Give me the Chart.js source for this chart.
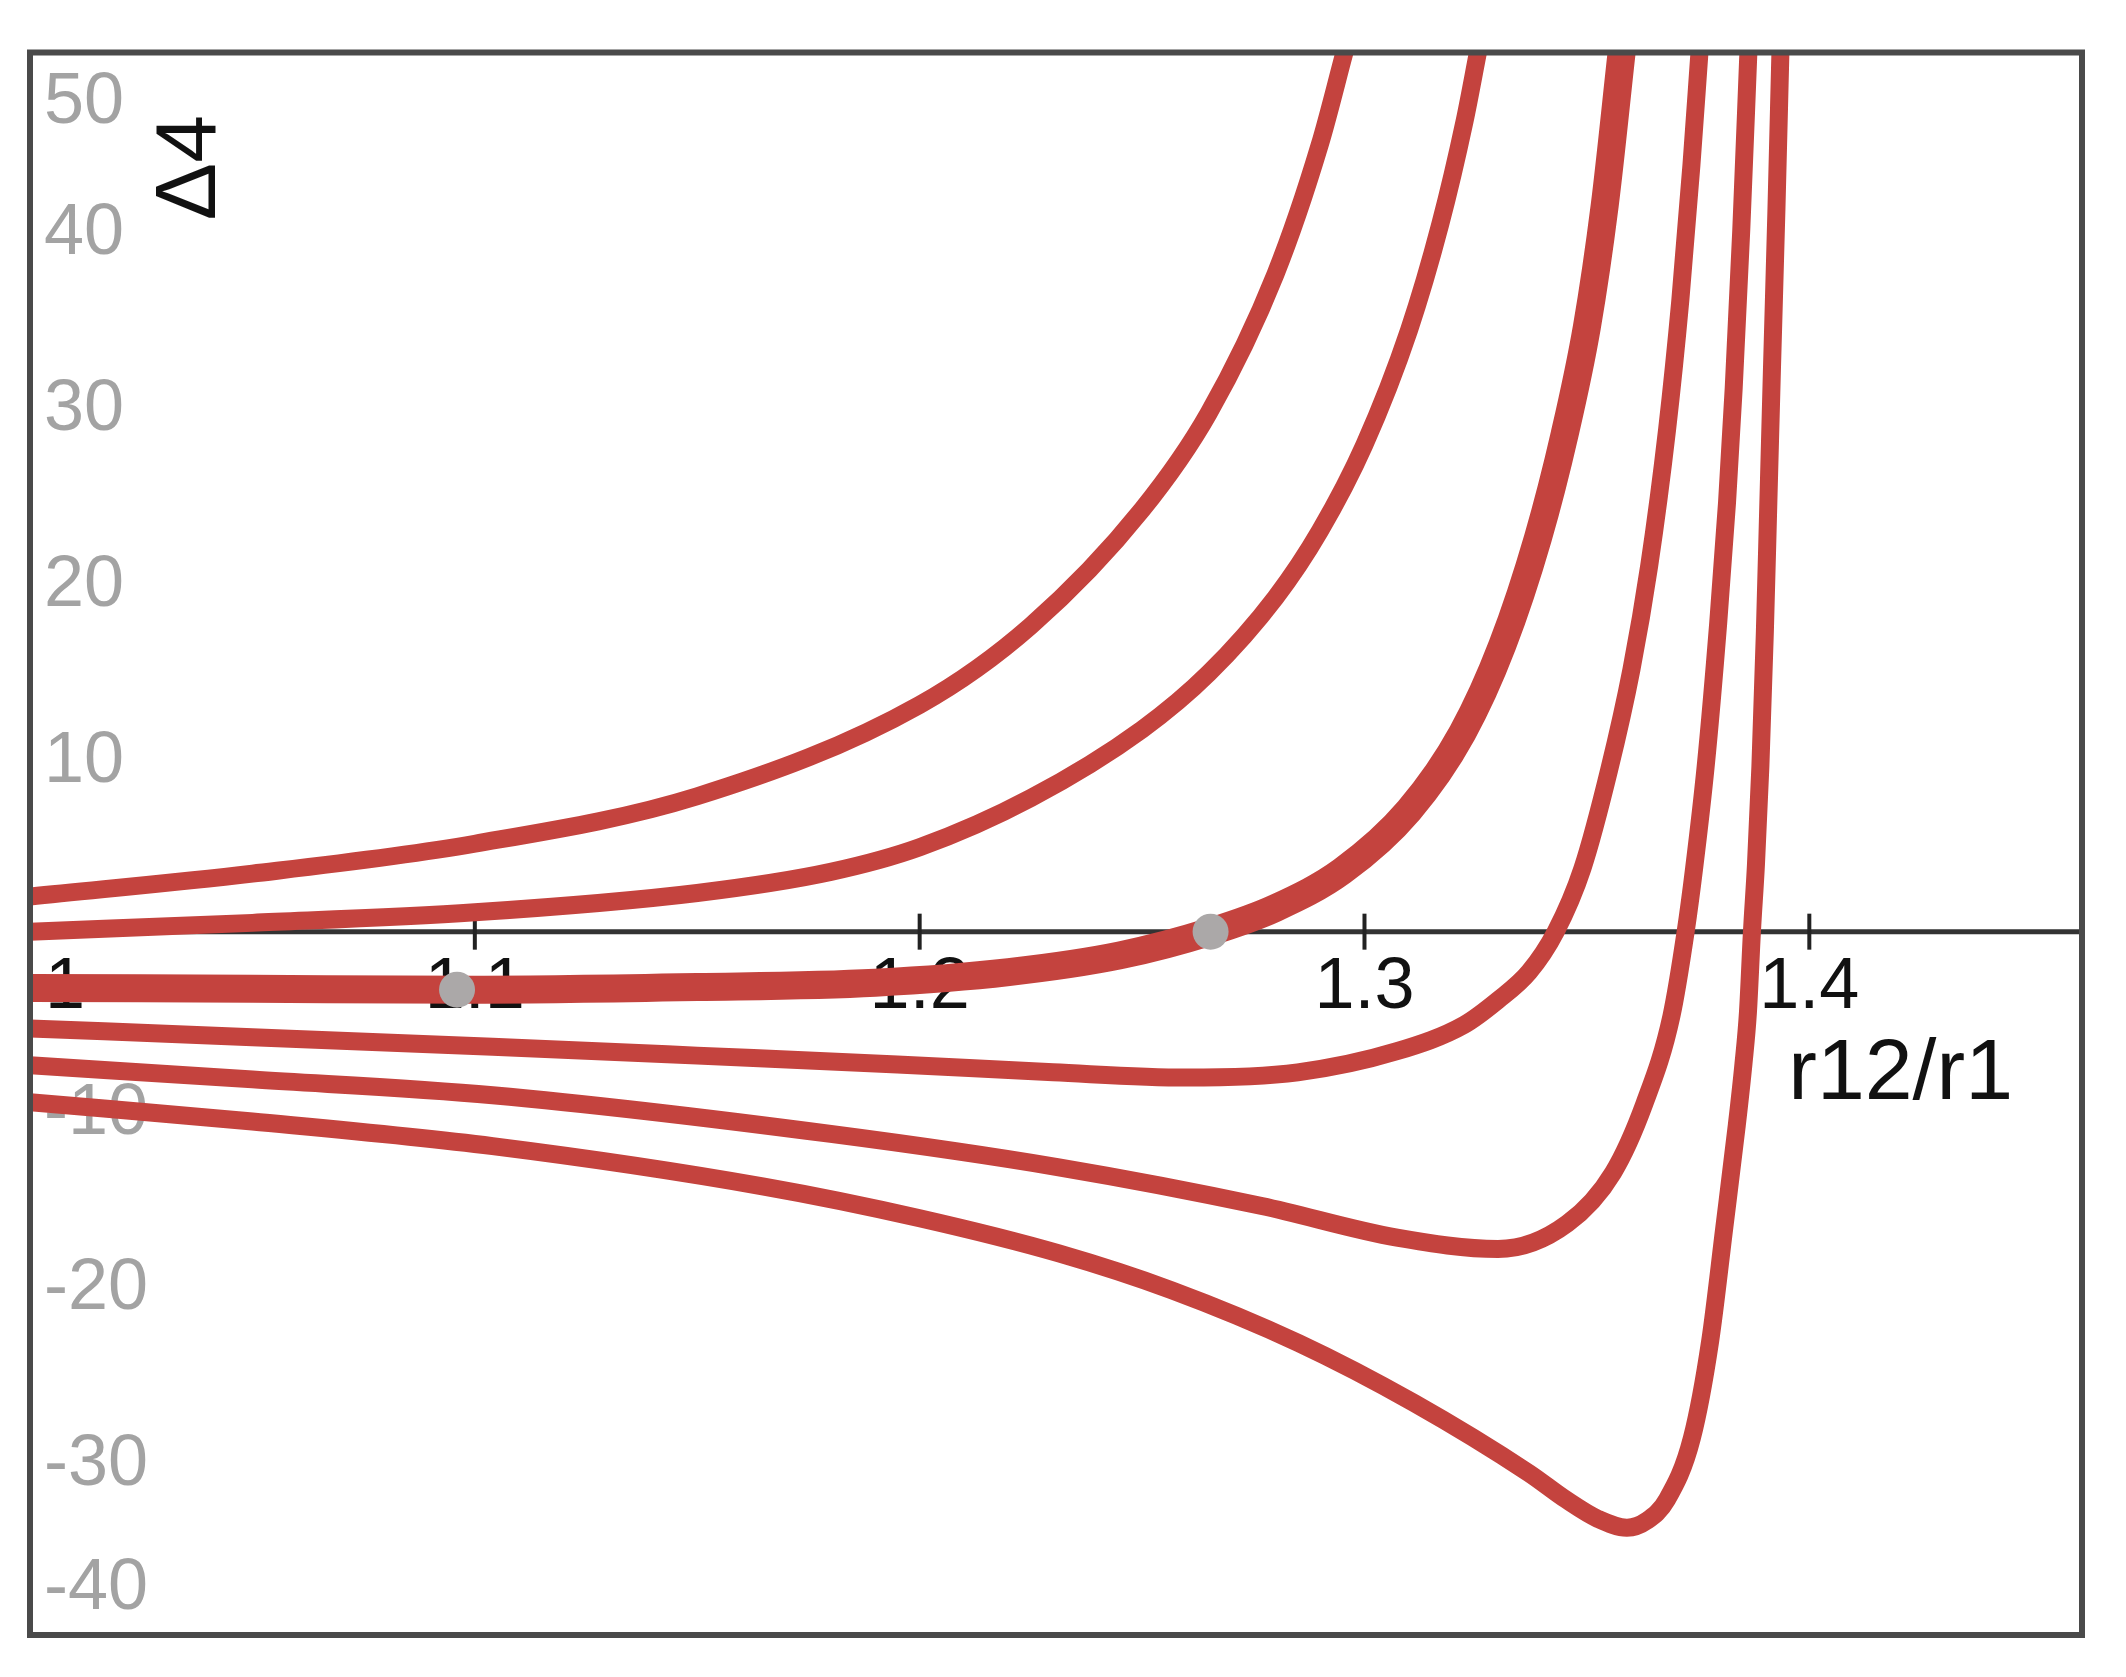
<!DOCTYPE html>
<html>
<head>
<meta charset="utf-8">
<title>Δ4 vs r12/r1</title>
<script src="https://cdn.jsdelivr.net/npm/chart.js@4.4.1/dist/chart.umd.min.js"></script>
<style>
    html, body { margin: 0; padding: 0; background: #ffffff; }
    #wrap { width: 2126px; height: 1677px; position: relative; }
</style>
</head>
<body>
<div id="wrap"><canvas id="deltaChart"></canvas></div>
<script>

/*
  Δ4 against r12/r1
  six curves + two marked points
*/

const xTicks = [1, 1.1, 1.2, 1.3, 1.4]
const xTickLabels = ["1", "1.1", "1.2", "1.3", "1.4"]
const yTicks = [50, 40, 30, 20, 10, -10, -20, -30, -40]

const xTitle = "r12/r1"
const yTitle = "Δ4"

// curve A (top)
const curveAx = [1.0, 1.05, 1.1, 1.15, 1.2, 1.225, 1.25, 1.265, 1.28, 1.29, 1.2955]
const curveAy = [2.0, 3.3, 5.0, 7.7, 12.9, 17.4, 24.0, 29.5, 37.4, 44.8, 50]

// curve B
const curveBx = [1.0, 1.05, 1.1, 1.15, 1.18, 1.2, 1.225, 1.25, 1.265, 1.28, 1.29, 1.3, 1.31, 1.317, 1.3225, 1.3255]
const curveBy = [0.0, 0.5, 1.1, 2.2, 3.4, 4.8, 7.6, 11.5, 14.7, 19.0, 22.8, 27.7, 34.2, 40.2, 46.1, 50]

// curve C (thick one, through the dots)
const curveCx = [1.0, 1.05, 1.1, 1.15, 1.19, 1.22, 1.245, 1.2654, 1.28, 1.295, 1.31, 1.322, 1.331, 1.339, 1.345, 1.35, 1.354, 1.3578]
const curveCy = [-3.2, -3.25, -3.3, -3.15, -2.9, -2.3, -1.35, 0, 1.35, 3.45, 6.9, 11.3, 16.3, 22.4, 28.3, 34.4, 41.3, 50]

// curve D
const curveDx = [1.0, 1.05, 1.104, 1.15, 1.195, 1.23, 1.26, 1.285, 1.3073, 1.3224, 1.33, 1.337, 1.343, 1.349, 1.355, 1.36, 1.364, 1.368, 1.371, 1.3735, 1.3753]
const curveDy = [-5.5, -6.0, -6.55, -7.05, -7.55, -8.0, -8.3, -8.0, -6.8, -5.3, -3.9, -2.3, 0, 3.6, 9.2, 14.9, 20.8, 28.5, 35.9, 43.6, 50]

// curve E
const curveEx = [1.0, 1.05, 1.104, 1.18, 1.2313, 1.2769, 1.3073, 1.33, 1.3456, 1.3559, 1.3629, 1.369, 1.3722, 1.3741, 1.3767, 1.3795, 1.3815, 1.383, 1.3847, 1.3863]
const curveEy = [-7.6, -8.4, -9.3, -11.5, -13.4, -15.6, -17.4, -18.05, -16.6, -13.7, -9.8, -4.8, 0, 3.6, 9.4, 17.5, 24.4, 30.9, 39.9, 50]

// curve F (deepest)
const curveFx = [1.0, 1.05, 1.104, 1.165, 1.2, 1.2313, 1.2567, 1.2852, 1.3111, 1.337, 1.3453, 1.3525, 1.359, 1.3635, 1.368, 1.3736, 1.3777, 1.3809, 1.3837, 1.3852, 1.3862, 1.3871, 1.388, 1.389, 1.39, 1.3908, 1.3916, 1.3926, 1.3935]
const curveFy = [-9.7, -10.8, -12.2, -14.5, -16.3, -18.3, -20.4, -23.4, -26.8, -30.8, -32.3, -33.4, -33.9, -33.5, -32.3, -28.8, -23.3, -16.8, -11.0, -7.5, -4.6, 0, 3.8, 9.4, 17.0, 24.5, 32, 41, 50]

// gray marked points
const dotX = [1.096, 1.2654]
const dotY = [-3.3, 0]

const RED = "#c4433e"
const FONT = "'Liberation Sans', Arial, Helvetica, sans-serif"

function toPoints(xs, ys) {
    return xs.map((x, i) => ({ x: x, y: ys[i] }))
}

function curve(xs, ys, width) {
    return {
        type: "line",
        data: toPoints(xs, ys),
        borderColor: RED,
        borderWidth: width,
        pointRadius: 0,
        fill: false,
        cubicInterpolationMode: "monotone",
        borderCapStyle: "butt",
        borderJoinStyle: "round",
        clip: 0,
        order: 1
    }
}

const axesPlugin = {

    id: "mathAxes",

    beforeDatasetsDraw(chart) {

        const { ctx, chartArea: a, scales } = chart
        const xs = scales.x
        const ys = scales.y
        const y0 = ys.getPixelForValue(0)

        ctx.save()

        // y tick labels, kept inside the frame
        ctx.font = "72px " + FONT
        ctx.fillStyle = "#a3a3a3"
        ctx.textAlign = "left"
        ctx.textBaseline = "alphabetic"

        yTicks.forEach(v => {
            let py = ys.getPixelForValue(v)
            py = Math.min(Math.max(py, a.top + 44), a.bottom - 52)
            ctx.fillText(String(v), a.left + 14, py + 26)
        })

        // axis line at y = 0
        ctx.strokeStyle = "#333333"
        ctx.lineWidth = 5
        ctx.beginPath()
        ctx.moveTo(a.left, y0)
        ctx.lineTo(a.right, y0)
        ctx.stroke()

        // x ticks crossing the axis
        ctx.strokeStyle = "#222222"
        ctx.lineWidth = 4
        xTicks.forEach(v => {
            const px = xs.getPixelForValue(v)
            ctx.beginPath()
            ctx.moveTo(px, y0 - 18)
            ctx.lineTo(px, y0 + 18)
            ctx.stroke()
        })

        // x tick labels
        ctx.fillStyle = "#111111"
        ctx.textAlign = "center"
        xTicks.forEach((v, i) => {
            const px = Math.max(xs.getPixelForValue(v), a.left + 35)
            ctx.fillText(xTickLabels[i], px, y0 + 76)
        })

        // axis titles
        ctx.font = "86px " + FONT
        ctx.textAlign = "left"
        ctx.fillText(xTitle, xs.getPixelForValue(1.4) - 21, y0 + 167)

        ctx.save()
        ctx.translate(a.left + 161, a.top + 115)
        ctx.rotate(-Math.PI / 2)
        ctx.font = "86px " + FONT
        ctx.textAlign = "center"
        ctx.textBaseline = "middle"
        ctx.fillText(yTitle, 0, 0)
        ctx.restore()

        ctx.restore()

    },

    afterDatasetsDraw(chart) {

        const { ctx, chartArea: a } = chart

        ctx.save()
        ctx.strokeStyle = "#4a4a4a"
        ctx.lineWidth = 6
        ctx.strokeRect(a.left, a.top, a.right - a.left, a.bottom - a.top)
        ctx.restore()

    }

}

const DeltaChart = {

    chart: null,

    init() {

        const canvas = document.getElementById("deltaChart")

        if (!canvas) {
            return
        }

        this.chart = new Chart(canvas, {

            data: {
                datasets: [
                    curve(curveAx, curveAy, 18),
                    curve(curveBx, curveBy, 18),
                    curve(curveCx, curveCy, 28),
                    curve(curveDx, curveDy, 18),
                    curve(curveEx, curveEy, 18),
                    curve(curveFx, curveFy, 18),
                    {
                        type: "scatter",
                        data: toPoints(dotX, dotY),
                        pointRadius: 18,
                        pointBackgroundColor: "#aba8a8",
                        pointBorderWidth: 0,
                        order: 0
                    }
                ]
            },

            options: {
                responsive: true,
                maintainAspectRatio: false,
                animation: false,
                events: [],
                layout: {
                    padding: { left: 30, top: 52.5, right: 44, bottom: 42 }
                },
                plugins: {
                    legend: { display: false },
                    tooltip: { enabled: false }
                },
                scales: {
                    x: { type: "linear", min: 1.0, max: 1.4613, display: false },
                    y: { type: "linear", min: -40, max: 50, display: false }
                }
            },

            plugins: [axesPlugin]

        })

    }

}

window.addEventListener("load", () => {
    DeltaChart.init()
})

</script>
</body>
</html>
